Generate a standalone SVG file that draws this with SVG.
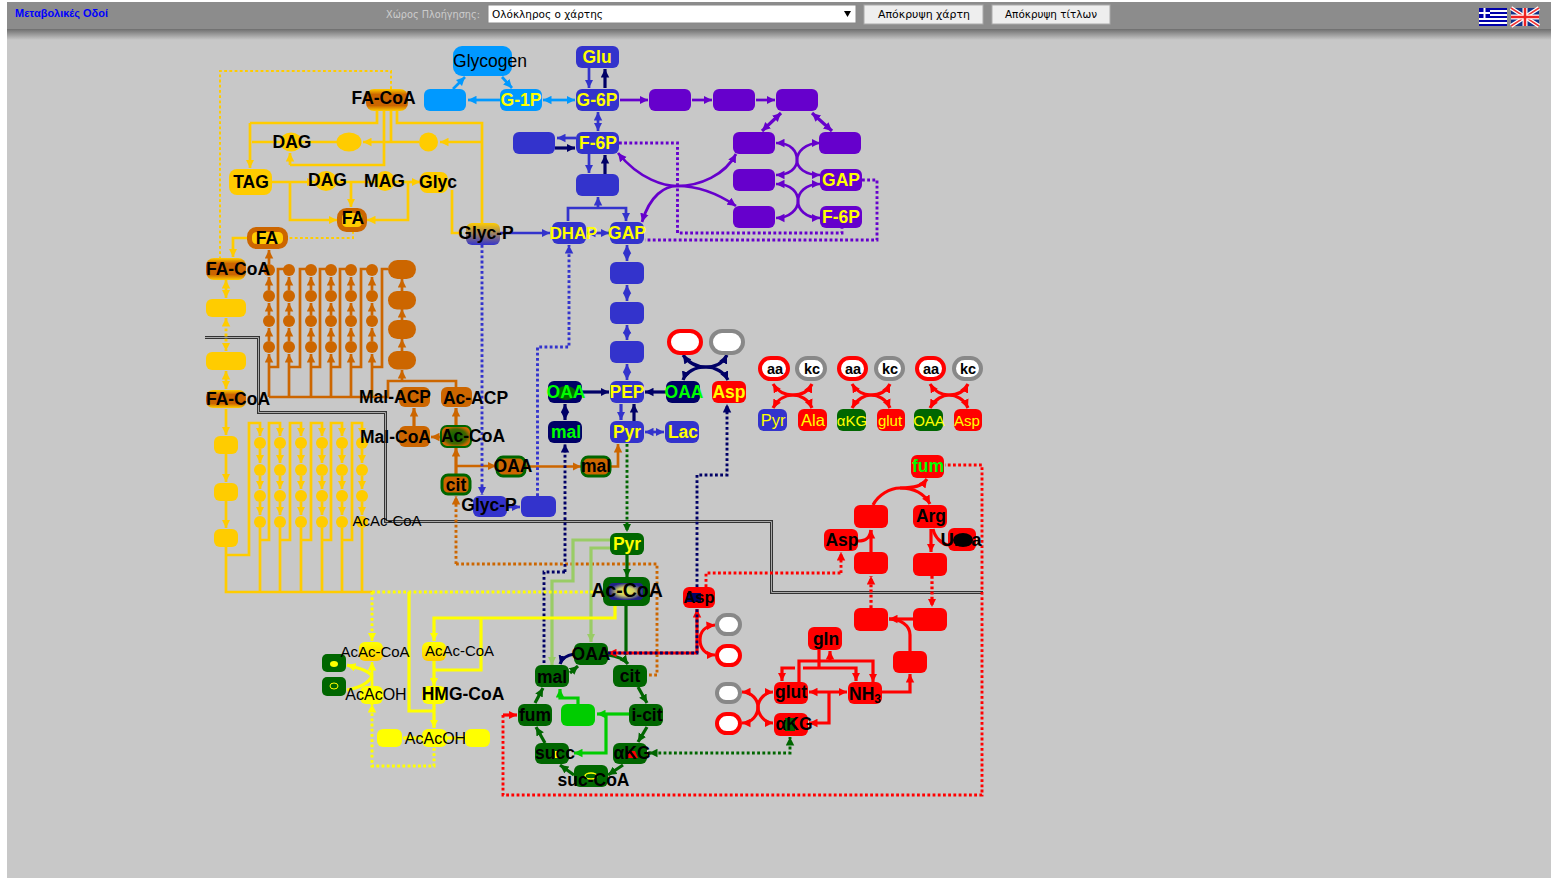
<svg xmlns="http://www.w3.org/2000/svg" width="1551" height="878" viewBox="0 0 1551 878">
<style>
text{font-family:"Liberation Sans",Arial,sans-serif}
.t{font-size:17.5px;font-weight:bold;text-anchor:middle;fill:#000}
.m{font-size:15px;font-weight:normal;text-anchor:middle;fill:#000}
.s14{font-size:14.5px;font-weight:bold}
.y{fill:#ff0}.g{fill:#0f0}
.ui{font-family:"DejaVu Sans",sans-serif;font-size:10.5px}
.blu{fill:#33c}.pur{fill:#60c}.sky{fill:#09f}.nav{fill:#006}.red{fill:#f00}.grn{fill:#060}.lim{fill:#0c0}.amb{fill:#fc0}.bro{fill:#c60}.yel{fill:#ff0}
.wr{fill:#fff;stroke:#f00;stroke-width:4}.wg{fill:#fff;stroke:#888;stroke-width:4}
.gb{stroke:#060;stroke-width:3;fill:#c60}
#edges path{fill:none;stroke-width:2.7}
#edges path.d{stroke-dasharray:2.8 2.4;stroke-width:2.9}
#edges path.th{stroke-width:3.2}
#edges .o{stroke:#fc0}#edges .br{stroke:#c60}#edges .bl{stroke:#33c}#edges .na{stroke:#006}#edges .pu{stroke:#60c}#edges .sk{stroke:#09f}#edges .re{stroke:#f00}#edges .gr{stroke:#060}#edges .li{stroke:#0c0}#edges .lg{stroke:#9c6}#edges .ye{stroke:#ff0}
.o.e{marker-end:url(#mo)}.o.s{marker-start:url(#mo)}
.br.e{marker-end:url(#mbr)}.br.s{marker-start:url(#mbr)}
.bl.e{marker-end:url(#mbl)}.bl.s{marker-start:url(#mbl)}
.na.e{marker-end:url(#mna)}.na.s{marker-start:url(#mna)}
.pu.e{marker-end:url(#mpu)}.pu.s{marker-start:url(#mpu)}
.sk.e{marker-end:url(#msk)}.sk.s{marker-start:url(#msk)}
.re.e{marker-end:url(#mre)}.re.s{marker-start:url(#mre)}
.gr.e{marker-end:url(#mgr)}.gr.s{marker-start:url(#mgr)}
.li.e{marker-end:url(#mli)}.lg.e{marker-end:url(#mlg)}
.ye.e{marker-end:url(#mye)}
</style>
<defs>
<marker id="mo" viewBox="0 0 10 10" refX="10" refY="5" markerWidth="8.500" markerHeight="9" markerUnits="userSpaceOnUse" orient="auto-start-reverse"><path d="M0 0L10 5L0 10z" fill="#fc0"/></marker>
<marker id="mbr" viewBox="0 0 10 10" refX="10" refY="5" markerWidth="8.500" markerHeight="9" markerUnits="userSpaceOnUse" orient="auto-start-reverse"><path d="M0 0L10 5L0 10z" fill="#c60"/></marker>
<marker id="mbl" viewBox="0 0 10 10" refX="10" refY="5" markerWidth="8.500" markerHeight="9" markerUnits="userSpaceOnUse" orient="auto-start-reverse"><path d="M0 0L10 5L0 10z" fill="#33c"/></marker>
<marker id="mna" viewBox="0 0 10 10" refX="10" refY="5" markerWidth="8.500" markerHeight="9" markerUnits="userSpaceOnUse" orient="auto-start-reverse"><path d="M0 0L10 5L0 10z" fill="#006"/></marker>
<marker id="mpu" viewBox="0 0 10 10" refX="10" refY="5" markerWidth="8.500" markerHeight="9" markerUnits="userSpaceOnUse" orient="auto-start-reverse"><path d="M0 0L10 5L0 10z" fill="#60c"/></marker>
<marker id="msk" viewBox="0 0 10 10" refX="10" refY="5" markerWidth="8.500" markerHeight="9" markerUnits="userSpaceOnUse" orient="auto-start-reverse"><path d="M0 0L10 5L0 10z" fill="#09f"/></marker>
<marker id="mre" viewBox="0 0 10 10" refX="10" refY="5" markerWidth="8.500" markerHeight="9" markerUnits="userSpaceOnUse" orient="auto-start-reverse"><path d="M0 0L10 5L0 10z" fill="#f00"/></marker>
<marker id="mgr" viewBox="0 0 10 10" refX="10" refY="5" markerWidth="8.500" markerHeight="9" markerUnits="userSpaceOnUse" orient="auto-start-reverse"><path d="M0 0L10 5L0 10z" fill="#060"/></marker>
<marker id="mli" viewBox="0 0 10 10" refX="10" refY="5" markerWidth="8.500" markerHeight="9" markerUnits="userSpaceOnUse" orient="auto-start-reverse"><path d="M0 0L10 5L0 10z" fill="#0c0"/></marker>
<marker id="mlg" viewBox="0 0 10 10" refX="10" refY="5" markerWidth="8.500" markerHeight="9" markerUnits="userSpaceOnUse" orient="auto-start-reverse"><path d="M0 0L10 5L0 10z" fill="#9c6"/></marker>
<marker id="mye" viewBox="0 0 10 10" refX="10" refY="5" markerWidth="8.500" markerHeight="9" markerUnits="userSpaceOnUse" orient="auto-start-reverse"><path d="M0 0L10 5L0 10z" fill="#ff0"/></marker>
<linearGradient id="shadow" x1="0" y1="0" x2="0" y2="1"><stop offset="0" stop-color="#6e6e6e"/><stop offset="1" stop-color="#c8c8c8"/></linearGradient>
<linearGradient id="gp" x1="0" y1="0" x2="0" y2="1"><stop offset="0" stop-color="#fc0"/><stop offset="1" stop-color="#33c"/></linearGradient>
<radialGradient id="acc"><stop offset="0" stop-color="#060"/><stop offset=".7" stop-color="#460"/><stop offset="1" stop-color="#c60"/></radialGradient>
<radialGradient id="acb"><stop offset="0" stop-color="#ee4"/><stop offset=".5" stop-color="#cc6"/><stop offset="1" stop-color="#228"/></radialGradient>
<linearGradient id="fac" x1="0" y1="0" x2="0" y2="1"><stop offset="0" stop-color="#fc0"/><stop offset=".25" stop-color="#c60"/><stop offset=".75" stop-color="#c60"/><stop offset="1" stop-color="#fc0"/></linearGradient>
<linearGradient id="aca" x1="0" y1="0" x2="0" y2="1"><stop offset="0" stop-color="#ff0"/><stop offset="1" stop-color="#fc0"/></linearGradient>
</defs>

<rect width="1551" height="878" fill="#fff"/>
<rect x="7" y="2" width="1544" height="876" fill="#c8c8c8"/>

<g id="toolbar">
<rect x="7" y="2" width="1544" height="27" fill="#8c8c8c"/>
<rect x="7" y="29" width="1544" height="11" fill="url(#shadow)"/>
<text x="15" y="17" font-size="11" font-weight="bold" fill="#00f" textLength="93" lengthAdjust="spacingAndGlyphs">Μεταβολικές Οδοί</text>
<text class="ui" x="386" y="18" fill="#ccc" textLength="94" lengthAdjust="spacingAndGlyphs">Χώρος Πλοήγησης:</text>
<rect x="488" y="5" width="368" height="18" fill="#fff" stroke="#888"/>
<text class="ui" x="492" y="18" fill="#000" textLength="111" lengthAdjust="spacingAndGlyphs">Ολόκληρος ο χάρτης</text>
<path d="M844 11h7l-3.500 6z" fill="#000"/>
<rect x="864" y="5" width="119" height="19" fill="#eee" stroke="#aaa"/>
<text class="ui" x="878" y="18" fill="#000" textLength="92" lengthAdjust="spacingAndGlyphs">Απόκρυψη χάρτη</text>
<rect x="992" y="5" width="118" height="19" fill="#eee" stroke="#aaa"/>
<text class="ui" x="1005" y="18" fill="#000" textLength="92" lengthAdjust="spacingAndGlyphs">Απόκρυψη τίτλων</text>
<g id="flag-gr"><rect x="1479" y="8" width="28" height="18" fill="#fff"/><path d="M1479 9h28M1479 13h28M1479 17h28M1479 21h28M1479 25h28" stroke="#00a" stroke-width="2"/><rect x="1479" y="8" width="11" height="10" fill="#00a"/><path d="M1484.500 8v10M1479 13h11" stroke="#fff" stroke-width="2"/></g>
<g id="flag-uk"><rect x="1511" y="8" width="28" height="18" fill="#138"/><path d="M1511 8l28 18M1539 8l-28 18" stroke="#fff" stroke-width="4"/><path d="M1511 8l28 18M1539 8l-28 18" stroke="#e33" stroke-width="1.500"/><path d="M1525 8v18M1511 17h28" stroke="#fff" stroke-width="5"/><path d="M1525 8v18M1511 17h28" stroke="#e22" stroke-width="2.500"/></g>
</g>

<g id="edges">
<path d="M205 337.500H258.500V412.500H385.500V521.500H771.500V592.500H983" style="stroke:#333;stroke-width:3"/>
<path d="M205 337.500H258.500V412.500H385.500V521.500H771.500V592.500H983" style="stroke:#aaa;stroke-width:1"/>
<path class="o" d="M377 111V123H250"/><path class="o e" d="M250 123V168"/>
<path class="o" d="M384 111V165H290"/><path class="o e" d="M290 165V153"/>
<path class="o" d="M391 111V142"/>
<path class="o" d="M397 111V123H482V224"/>
<path class="o" d="M252 142H340"/><path class="o e" d="M419 142H363"/><path class="o e" d="M482 142H440"/>
<path class="o e" d="M272 182H315"/><path class="o e" d="M290 182V220H337"/>
<path class="o" d="M337 182H375"/><path class="o e" d="M351 182V207"/>
<path class="o e" d="M395 182H420"/><path class="o e" d="M408 182V220H367"/>
<path class="o" d="M452 190V233H462"/>
<path class="o d" style="stroke-width:2" d="M353 231V238H288"/>
<path class="o d" style="stroke-width:2" d="M391 89V71H220V258"/>
<path class="o e" d="M247 238H233V257"/>
<path class="o e s" d="M226 280V298"/>
<path class="o d e s" d="M226 318V351"/>
<path class="o e s" d="M226 371V389"/>
<path class="o e" d="M226 409V435"/><path class="o e" d="M226 453V482"/><path class="o e" d="M226 501V528"/>
<path class="o" d="M226 547V592H372"/>
<path class="o e" d="M226 555H249V423H260V436"/>
<path class="o e" d="M260 540H269V423H280V436"/>
<path class="o e" d="M280 540H290V423H301V436"/>
<path class="o e" d="M301 540H311V423H322V436"/>
<path class="o e" d="M322 540H331V423H342V436"/>
<path class="o e" d="M342 540H352V423H362V436"/>
<path class="o" d="M260 528V592M280 528V592M301 528V592M322 528V592M342 528V592M362 528V592"/>
<path class="o e" d="M260 449V463"/><path class="o e" d="M260 476V489"/><path class="o e" d="M260 502V515"/>
<path class="o e" d="M280 449V463"/><path class="o e" d="M280 476V489"/><path class="o e" d="M280 502V515"/>
<path class="o e" d="M301 449V463"/><path class="o e" d="M301 476V489"/><path class="o e" d="M301 502V515"/>
<path class="o e" d="M322 449V463"/><path class="o e" d="M322 476V489"/><path class="o e" d="M322 502V515"/>
<path class="o e" d="M342 449V463"/><path class="o e" d="M342 476V489"/><path class="o e" d="M342 502V515"/>
<path class="o e" d="M362 449V463"/><path class="o e" d="M362 476V489"/><path class="o e" d="M362 502V515"/>
<path class="br" d="M269 397H388V381H456V387"/>
<path class="br" d="M269 367H278V269H285M289 367H300V269H306M311 367H320V269H326M331 367H340V269H346M351 367H361V269H367M372 367H382V269H388"/>
<path class="br e" d="M269 397V354"/><path class="br e" d="M289 397V354"/><path class="br e" d="M311 397V354"/><path class="br e" d="M331 397V354"/><path class="br e" d="M351 397V354"/><path class="br e" d="M372 397V354"/>
<path class="br e" d="M269 341V328"/><path class="br e" d="M269 315V303"/><path class="br e" d="M269 290V277"/><path class="br e" d="M269 264V250"/>
<path class="br e" d="M289 341V328"/><path class="br e" d="M289 315V303"/><path class="br e" d="M289 290V277"/>
<path class="br e" d="M311 341V328"/><path class="br e" d="M311 315V303"/><path class="br e" d="M311 290V277"/>
<path class="br e" d="M331 341V328"/><path class="br e" d="M331 315V303"/><path class="br e" d="M331 290V277"/>
<path class="br e" d="M351 341V328"/><path class="br e" d="M351 315V303"/><path class="br e" d="M351 290V277"/>
<path class="br e" d="M372 341V328"/><path class="br e" d="M372 315V303"/><path class="br e" d="M372 290V277"/>
<path class="br e" d="M402 381V370"/><path class="br e" d="M402 351V339"/><path class="br e" d="M402 320V309"/><path class="br e" d="M402 291V279"/>
<path class="br e" d="M441 437H431"/><path class="br e th" d="M414 426V408"/><path class="br e th" d="M456 426V408"/>
<path class="br e th" d="M456 474V448"/><path class="br e" d="M456 466H496"/>
<path class="br e" d="M526 466.500H581"/><path class="br e" d="M611 466.500H618V444"/>
<path class="br d e" d="M456 564V496"/><path class="br d" d="M456 564H657V675H648"/>
<path class="sk e" d="M500 100H468"/><path class="sk e" d="M453 89L465 77"/><path class="sk e" d="M502 77L512 88"/>
<path class="sk e s" d="M543 100H575"/>
<path class="bl e" d="M589 68V88"/><path class="na e th" d="M605 88V69"/>
<path class="bl e s" d="M598 112V131"/>
<path class="bl e" d="M576 138H557"/><path class="na e th" d="M555 148H575"/>
<path class="bl e" d="M589 154V173"/><path class="na e th" d="M605 174V155"/>
<path class="bl e" d="M598 208V197"/><path class="bl e" d="M568 221V208H626V221"/>
<path class="bl e" d="M500 233H550"/><path class="bl e s" d="M587 233H609"/>
<path class="bl e s" d="M627 245V261"/><path class="bl e s" d="M627 285V301"/><path class="bl e s" d="M627 325V340"/><path class="bl e s" d="M627 364V380"/>
<path class="pu e" d="M620 100H648"/><path class="pu e" d="M692 100H712"/><path class="pu e" d="M756 100H775"/>
<path class="pu e s th" d="M781 113L762 131"/><path class="pu e s th" d="M812 113L832 131"/>
<path class="pu e s" d="M618 153C640 180 665 186 677 186C700 186 725 175 736 154"/>
<path class="pu e s" d="M642 222C650 195 665 186 677 186C700 186 720 195 736 206"/>
<path class="pu e s" d="M776 143C792 143 797 152 797 160C797 168 805 175 820 175"/>
<path class="pu e s" d="M820 143C805 143 797 152 797 160C797 168 790 175 776 175"/>
<path class="pu e s" d="M776 184C792 184 798 193 798 201C798 209 805 218 820 218"/>
<path class="pu e s" d="M820 184C805 184 798 193 798 201C798 209 790 218 776 218"/>
<path class="pu d" d="M619 143H677.500V233H842V228"/>
<path class="pu d" d="M862 180H877V240H645"/>
<path class="bl d e" d="M482 245V495"/>
<path class="bl d e" d="M537.500 496V347H569V245"/>
<path class="bl e" d="M507 507H520"/>
<path class="na e th" d="M582 392H609"/><path class="na e th" d="M666 392H645"/>
<path class="na e s th" d="M565 404V420"/>
<path class="bl e th" d="M621 404V420"/><path class="na e th" d="M634 421V404"/>
<path class="bl e s" d="M645 432H664"/>
<path class="na e s th" d="M683 355C690 365 700 367 706 367C715 367 724 372 728 380"/>
<path class="na e s th" d="M727 355C722 365 712 367 706 367C695 367 686 372 683 380"/>
<path class="na d e" d="M565 572V444"/>
<path class="na d" d="M565 572H544V665"/>
<path class="na d e" d="M697 587V475H727V404"/>
<path class="gr d e" d="M627 444V532"/>
<path class="gr e th" d="M627 555V577"/>
<path class="lg e th" d="M610 540H573V581H552V665"/>
<path class="lg e th" d="M610 548H591V642"/>
<path class="gr th" d="M626 606V655"/>
<path class="gr e th" d="M608 655C616 656 624 659 628 664"/>
<path class="gr e th" d="M638 687L647 703"/><path class="gr e th" d="M647 727L638 742"/><path class="gr e th" d="M623 765L608 775"/><path class="gr e th" d="M574 775L560 765"/><path class="gr e th" d="M545 743L536 727"/><path class="gr e th" d="M535 703L543 688"/><path class="gr e th" d="M570 673L578 666"/>
<path class="na e th" d="M574 654C568 655 562 658 560 664"/>
<path class="li e th" d="M629 714H597"/><path class="li e th" d="M606 714V753H574"/>
<path class="li e th" d="M578 704V698H560V689"/>
<path class="re d" d="M503 715V795H982V465H945"/>
<path class="re e th" d="M503 715H517"/>
<path class="gr d e" d="M648 753H790V737"/>
<path class="gr d" d="M649 753H655" style="marker-start:url(#mgr)"/>
<path class="re e th" d="M697 653H608"/><path class="re e th" d="M697 653V609"/>
<path class="na d" d="M608 653H697V592"/>
<path class="re d" d="M706 587V573H841"/><path class="re d e" d="M841 573V552"/>
<path class="re e s th" d="M715 625C705 626 700 632 700 640C700 648 705 655 715 655"/>
<path class="re e s th" d="M742 692C752 692 758 700 758 707C758 715 765 723 773 723"/>
<path class="re e s th" d="M773 692C765 692 758 700 758 707C758 715 752 723 742 723"/>
<path class="re e s th" d="M809 692H847"/>
<path class="re e th" d="M829 692V723H809"/>
<path class="re e th" d="M882 692H910V674"/>
<path class="re e th" d="M910 651V635C910 625 900 619 889 619"/>
<path class="re th" d="M913 619H889"/>
<path class="re e d th" d="M871 608V576"/><path class="re e th" d="M871 552V530"/>
<path class="re e th" d="M931 529V552"/><path class="re e d th" d="M932 576V607"/>
<path class="re th" d="M873 505C878 495 890 488 900 488"/>
<path class="re e th" d="M900 488C915 488 922 486 927 479"/>
<path class="re e th" d="M900 488C915 488 925 495 930 504"/>
<path class="re th" d="M858 541C866 541 870 538 871 530"/>
<path class="re th" d="M933 529C935 538 942 544 948 545"/>
<path class="re e th" d="M799 682V661H873V682"/>
<path class="re e th" d="M830 661V651"/>
<path class="re th" d="M819 650V669"/>
<path class="re e th" d="M803 668H856V681"/>
<path class="re e th" d="M795 668H782V681"/>
<path class="re e s th" d="M773 384C778 392 786 395 793 395C800 395 808 399 812 408"/>
<path class="re e s th" d="M812 384C808 392 800 395 793 395C786 395 778 399 773 408"/>
<path class="re e s th" d="M852 384C857 392 865 395 871 395C878 395 886 399 890 408"/>
<path class="re e s th" d="M890 384C886 392 878 395 871 395C865 395 857 399 852 408"/>
<path class="re e s th" d="M930 384C935 392 943 395 949 395C956 395 964 399 968 408"/>
<path class="re e s th" d="M968 384C964 392 956 395 949 395C943 395 935 399 930 408"/>
<path class="ye d" d="M372 592H603"/>
<path class="ye d e" d="M372 592V641"/>
<path class="ye th" d="M409 592V711H434"/>
<path class="ye e th" d="M615 606V618H434V641"/>
<path class="ye th" d="M481 618V670H434"/>
<path class="ye e th" d="M434 661V686"/><path class="ye e th" d="M434 704V728"/>
<path class="ye e th" d="M422 738H403"/><path class="ye th" d="M447 738H465"/>
<path class="ye e" d="M372 686V662"/>
<path class="ye d e" d="M434 748V766H372V704"/>
<path class="ye e th" d="M372 676C368 670 358 668 347 665"/>
<path class="ye th" d="M372 676C368 684 358 688 347 690"/>
</g>

<g id="n-cy11"><circle class="amb" cx="260" cy="443" r="6"/></g><g id="n-cy12"><circle class="amb" cx="280" cy="443" r="6"/></g><g id="n-cy13"><circle class="amb" cx="301" cy="443" r="6"/></g><g id="n-cy14"><circle class="amb" cx="322" cy="443" r="6"/></g><g id="n-cy15"><circle class="amb" cx="342" cy="443" r="6"/></g><g id="n-cy16"><circle class="amb" cx="362" cy="443" r="6"/></g>
<g id="n-cy21"><circle class="amb" cx="260" cy="470" r="6"/></g><g id="n-cy22"><circle class="amb" cx="280" cy="470" r="6"/></g><g id="n-cy23"><circle class="amb" cx="301" cy="470" r="6"/></g><g id="n-cy24"><circle class="amb" cx="322" cy="470" r="6"/></g><g id="n-cy25"><circle class="amb" cx="342" cy="470" r="6"/></g><g id="n-cy26"><circle class="amb" cx="362" cy="470" r="6"/></g>
<g id="n-cy31"><circle class="amb" cx="260" cy="496" r="6"/></g><g id="n-cy32"><circle class="amb" cx="280" cy="496" r="6"/></g><g id="n-cy33"><circle class="amb" cx="301" cy="496" r="6"/></g><g id="n-cy34"><circle class="amb" cx="322" cy="496" r="6"/></g><g id="n-cy35"><circle class="amb" cx="342" cy="496" r="6"/></g><g id="n-cy36"><circle class="amb" cx="362" cy="496" r="6"/></g>
<g id="n-cy41"><circle class="amb" cx="260" cy="522" r="6"/></g><g id="n-cy42"><circle class="amb" cx="280" cy="522" r="6"/></g><g id="n-cy43"><circle class="amb" cx="301" cy="522" r="6"/></g><g id="n-cy44"><circle class="amb" cx="322" cy="522" r="6"/></g><g id="n-cy45"><circle class="amb" cx="342" cy="522" r="6"/></g>
<g id="n-acaccoa0"><circle class="amb" cx="362" cy="522" r="6"/><text class="m" x="387" y="526">AcAc-CoA</text></g>
<g id="n-cb11"><circle class="bro" cx="269" cy="270" r="6"/></g><g id="n-cb12"><circle class="bro" cx="289" cy="270" r="6"/></g><g id="n-cb13"><circle class="bro" cx="311" cy="270" r="6"/></g><g id="n-cb14"><circle class="bro" cx="331" cy="270" r="6"/></g><g id="n-cb15"><circle class="bro" cx="351" cy="270" r="6"/></g><g id="n-cb16"><circle class="bro" cx="372" cy="270" r="6"/></g>
<g id="n-cb21"><circle class="bro" cx="269" cy="296" r="6"/></g><g id="n-cb22"><circle class="bro" cx="289" cy="296" r="6"/></g><g id="n-cb23"><circle class="bro" cx="311" cy="296" r="6"/></g><g id="n-cb24"><circle class="bro" cx="331" cy="296" r="6"/></g><g id="n-cb25"><circle class="bro" cx="351" cy="296" r="6"/></g><g id="n-cb26"><circle class="bro" cx="372" cy="296" r="6"/></g>
<g id="n-cb31"><circle class="bro" cx="269" cy="321" r="6"/></g><g id="n-cb32"><circle class="bro" cx="289" cy="321" r="6"/></g><g id="n-cb33"><circle class="bro" cx="311" cy="321" r="6"/></g><g id="n-cb34"><circle class="bro" cx="331" cy="321" r="6"/></g><g id="n-cb35"><circle class="bro" cx="351" cy="321" r="6"/></g><g id="n-cb36"><circle class="bro" cx="372" cy="321" r="6"/></g>
<g id="n-cb41"><circle class="bro" cx="269" cy="347" r="6"/></g><g id="n-cb42"><circle class="bro" cx="289" cy="347" r="6"/></g><g id="n-cb43"><circle class="bro" cx="311" cy="347" r="6"/></g><g id="n-cb44"><circle class="bro" cx="331" cy="347" r="6"/></g><g id="n-cb45"><circle class="bro" cx="351" cy="347" r="6"/></g><g id="n-cb46"><circle class="bro" cx="372" cy="347" r="6"/></g>

<g id="n-glycogen"><rect class="sky" x="453" y="46" width="59" height="30" rx="9"/><text class="t" style="font-weight:normal" x="490" y="67">Glycogen</text></g>
<g id="n-udp"><rect class="sky" x="424" y="89" width="42" height="22" rx="6"/></g>
<g id="n-g1p"><rect class="sky" x="500" y="89" width="42" height="22" rx="6"/><text class="t y" x="521" y="106">G-1P</text></g>
<g id="n-glu"><rect class="blu" x="576" y="46" width="43" height="22" rx="6"/><text class="t y" x="597" y="63">Glu</text></g>
<g id="n-g6p"><rect class="blu" x="576" y="89" width="43" height="22" rx="6"/><text class="t y" x="597" y="106">G-6P</text></g>
<g id="n-p1"><rect class="pur" x="649" y="89" width="42" height="22" rx="6"/></g>
<g id="n-p2"><rect class="pur" x="713" y="89" width="42" height="22" rx="6"/></g>
<g id="n-p3"><rect class="pur" x="776" y="89" width="42" height="22" rx="6"/></g>
<g id="n-bl"><rect class="blu" x="513" y="132" width="42" height="22" rx="6"/></g>
<g id="n-f6p"><rect class="blu" x="576" y="132" width="43" height="22" rx="6"/><text class="t y" x="598" y="149">F-6P</text></g>
<g id="n-fbp"><rect class="blu" x="576" y="174" width="43" height="22" rx="6"/></g>
<g id="n-p4"><rect class="pur" x="733" y="132" width="42" height="22" rx="6"/></g>
<g id="n-p5"><rect class="pur" x="819" y="132" width="42" height="22" rx="6"/></g>
<g id="n-p6"><rect class="pur" x="733" y="169" width="42" height="22" rx="6"/></g>
<g id="n-gap2"><rect class="pur" x="820" y="169" width="42" height="22" rx="6"/><text class="t y" x="841" y="186">GAP</text></g>
<g id="n-p7"><rect class="pur" x="733" y="206" width="42" height="22" rx="6"/></g>
<g id="n-f6p2"><rect class="pur" x="820" y="206" width="42" height="22" rx="6"/><text class="t y" x="841" y="223">F-6P</text></g>
<g id="n-dhap"><rect class="blu" x="552" y="222" width="34" height="22" rx="6"/><text class="t y" style="font-size:16.800px" x="573.500" y="239">DHAP</text></g>
<g id="n-gap"><rect class="blu" x="610" y="222" width="34" height="22" rx="6"/><text class="t y" x="627" y="239">GAP</text></g>
<g id="n-b1"><rect class="blu" x="610" y="262" width="34" height="22" rx="6"/></g>
<g id="n-b2"><rect class="blu" x="610" y="302" width="34" height="22" rx="6"/></g>
<g id="n-b3"><rect class="blu" x="610" y="341" width="34" height="22" rx="6"/></g>
<g id="n-pep"><rect class="blu" x="610" y="381" width="34" height="22" rx="6"/><text class="t y" x="627" y="398">PEP</text></g>
<g id="n-pyr"><rect class="blu" x="610" y="421" width="34" height="22" rx="6"/><text class="t y" x="627" y="438">Pyr</text></g>
<g id="n-lac"><rect class="blu" x="665" y="421" width="34" height="22" rx="6"/><text class="t y" x="683" y="438">Lac</text></g>
<g id="n-oaa1"><rect class="nav" x="548" y="381" width="34" height="22" rx="6"/><ellipse cx="566" cy="393" rx="10" ry="7" class="grn"/><text class="t g" x="566" y="398">OAA</text></g>
<g id="n-mal1"><rect class="nav" x="548" y="421" width="34" height="22" rx="6"/><text class="t g" x="566" y="438">mal</text></g>
<g id="n-oaa2"><rect class="nav" x="666" y="381" width="34" height="22" rx="6"/><text class="t g" x="684" y="398">OAA</text></g>
<g id="n-asp1"><rect class="red" x="712" y="381" width="34" height="22" rx="6"/><text class="t y" x="729" y="398">Asp</text></g>
<g id="n-w1"><rect class="wr" x="669" y="331" width="32" height="22" rx="11"/></g>
<g id="n-w2"><rect class="wg" x="711" y="331" width="32" height="22" rx="11"/></g>

<g id="n-facoa1"><rect fill="url(#fac)" x="366" y="89" width="42" height="22" rx="8"/><text class="t" x="383.500" y="104">FA-CoA</text></g>
<g id="n-dag1"><ellipse class="amb" cx="291" cy="142" rx="11" ry="9.500"/><text class="t" x="292" y="148">DAG</text></g>
<g id="n-e1"><ellipse class="amb" cx="349" cy="142" rx="12.500" ry="9.500"/></g>
<g id="n-e2"><ellipse class="amb" cx="428.500" cy="142" rx="9.500" ry="9.500"/></g>
<g id="n-tag"><rect class="amb" x="229" y="169" width="43" height="26" rx="8"/><text class="t" x="251" y="188">TAG</text></g>
<g id="n-dag2"><ellipse class="amb" cx="326" cy="181" rx="11" ry="10"/><text class="t" x="327.500" y="186">DAG</text></g>
<g id="n-mag"><ellipse class="amb" cx="385" cy="181" rx="10" ry="10"/><text class="t" x="384.500" y="187">MAG</text></g>
<g id="n-glyc"><rect class="amb" x="420" y="172" width="28" height="21" rx="7"/><text class="t" x="438" y="188">Glyc</text></g>
<g id="n-fa1"><rect x="339.500" y="210.500" width="25" height="19" rx="7" fill="#fc0" stroke="#c60" stroke-width="5"/><text class="t" x="353" y="224">FA</text></g>
<g id="n-fa2"><rect x="249.500" y="229.500" width="36" height="17" rx="7" fill="#fc0" stroke="#c60" stroke-width="5"/><text class="t" x="267" y="244">FA</text></g>
<g id="n-glycp1"><rect fill="url(#gp)" x="466" y="223" width="34" height="22" rx="6"/><text class="t" x="486" y="239">Glyc-P</text></g>
<g id="n-facoa2"><rect fill="url(#fac)" x="206" y="258" width="40" height="22" rx="8"/><text class="t" x="238" y="275">FA-CoA</text></g>
<g id="n-y1"><rect class="amb" x="206" y="299" width="40" height="18" rx="6"/></g>
<g id="n-y2"><rect class="amb" x="206" y="352" width="40" height="18" rx="6"/></g>
<g id="n-facoa3"><rect fill="url(#fac)" x="206" y="390" width="40" height="18" rx="7"/><text class="t" x="238" y="405">FA-CoA</text></g>
<g id="n-y3"><rect class="amb" x="214" y="436" width="24" height="18" rx="6"/></g>
<g id="n-y4"><rect class="amb" x="214" y="483" width="24" height="18" rx="6"/></g>
<g id="n-y5"><rect class="amb" x="214" y="529" width="24" height="18" rx="6"/></g>

<g id="n-bb1"><rect class="bro" x="388" y="260" width="28" height="19" rx="9.500"/></g>
<g id="n-bb2"><rect class="bro" x="388" y="291" width="28" height="18.500" rx="9"/></g>
<g id="n-bb3"><rect class="bro" x="388" y="320" width="28" height="19" rx="9.500"/></g>
<g id="n-bb4"><rect class="bro" x="388" y="351" width="28" height="18.500" rx="9"/></g>
<g id="n-malacp"><rect class="bro" x="399" y="387" width="31" height="20" rx="6"/><text class="t" x="395" y="403">Mal-ACP</text></g>
<g id="n-acacp"><rect class="bro" x="441" y="387" width="31" height="20" rx="6"/><text class="t" x="475.500" y="404">Ac-ACP</text></g>
<g id="n-malcoa"><rect class="bro" x="399" y="426" width="31" height="21" rx="6"/><text class="t" x="395.500" y="443">Mal-CoA</text></g>
<g id="n-accoa1"><rect fill="url(#acc)" stroke="#060" stroke-width="2" x="441" y="426" width="30" height="21" rx="6"/><text class="t" x="473" y="442">Ac-CoA</text></g>
<g id="n-oaa3"><rect class="gb" x="497" y="457" width="28" height="19" rx="6"/><text class="t" x="513" y="472">OAA</text></g>
<g id="n-cit1"><rect class="gb" x="442" y="475" width="28" height="19" rx="6"/><text class="t" x="456" y="491">cit</text></g>
<g id="n-mal2"><rect class="gb" x="582" y="457" width="28" height="19" rx="6"/><text class="t" x="596" y="472">mal</text></g>
<g id="n-glycp2"><rect class="blu" x="473" y="496" width="34" height="21" rx="6"/><text class="t" x="489" y="511">Glyc-P</text></g>
<g id="n-b4"><rect class="blu" x="521" y="496" width="35" height="21" rx="6"/></g>

<g id="n-pyr2"><rect class="grn" x="610" y="533" width="34" height="22" rx="6"/><text class="t y" x="627" y="550">Pyr</text></g>
<g id="n-accoa2"><rect class="grn" x="603" y="577" width="47" height="29" rx="7"/><rect fill="url(#acb)" x="609" y="583" width="34" height="17" rx="4"/><text class="t" style="font-size:19.500px" x="627" y="597">Ac-CoA</text></g>
<g id="n-asp2"><rect class="red" x="683" y="587" width="32" height="21" rx="6"/><rect class="nav" x="687" y="593" width="14" height="9"/><text class="t" x="699" y="603" style="font-size:16.500px">Asp</text></g>
<g id="n-oaa4"><rect class="grn" x="574" y="643" width="34" height="22" rx="6"/><text class="t" x="591" y="660">OAA</text></g>
<g id="n-mal3"><rect class="grn" x="535" y="665" width="34" height="22" rx="6"/><text class="t" x="552" y="683">mal</text></g>
<g id="n-cit2"><rect class="grn" x="613" y="665" width="34" height="22" rx="6"/><text class="t" x="630" y="682">cit</text></g>
<g id="n-fum"><rect class="grn" x="518" y="704" width="34" height="22" rx="6"/><text class="t" x="535" y="721">fum</text></g>
<g id="n-lime"><rect class="lim" x="561" y="704" width="34" height="22" rx="6"/></g>
<g id="n-icit"><rect class="grn" x="629" y="704" width="34" height="22" rx="6"/><text class="t" x="647" y="721">i-cit</text></g>
<g id="n-succ"><rect class="grn" x="535" y="743" width="34" height="21" rx="6"/><rect class="yel" x="555" y="751" width="4" height="7"/><text class="t" x="555" y="759">succ</text></g>
<g id="n-akg1"><rect class="grn" x="613" y="743" width="34" height="21" rx="6"/><path d="M627 751h8l3 7h-10z" fill="#f00"/><text class="t" x="632" y="759">αKG</text></g>
<g id="n-succoa"><rect class="grn" x="574" y="765" width="34" height="22" rx="6"/><ellipse cx="591" cy="776" rx="6" ry="3" fill="none" stroke="#ff0" stroke-width="1.500"/><text class="t" x="593.500" y="786">suc-CoA</text></g>

<g id="n-ez1"><rect class="grn" x="322" y="654" width="24" height="18" rx="5"/><ellipse class="yel" cx="334" cy="664" rx="4" ry="3"/></g>
<g id="n-ez2"><rect class="grn" x="322" y="677" width="24" height="19" rx="5"/><ellipse cx="334" cy="686" rx="4" ry="3" fill="none" stroke="#ff0"/></g>
<g id="n-acac1"><rect fill="url(#aca)" x="359" y="642" width="24" height="19" rx="6"/><text class="m" x="375" y="657">AcAc-CoA</text></g>
<g id="n-acac2"><rect fill="url(#aca)" x="422" y="642" width="24" height="19" rx="6"/><text class="m" x="459.500" y="656">AcAc-CoA</text></g>
<g id="n-acacoh1"><rect class="yel" x="360" y="686" width="23" height="18" rx="6"/><text class="t" style="font-size:16px;font-weight:normal" x="376" y="700">AcAcOH</text></g>
<g id="n-hmg"><rect class="yel" x="422" y="686" width="24" height="18" rx="6"/><text class="t" x="463" y="700">HMG-CoA</text></g>
<g id="n-y6"><rect class="yel" x="377" y="729" width="25" height="18" rx="6"/></g>
<g id="n-acacoh2"><rect class="yel" x="422" y="729" width="25" height="18" rx="6"/><text class="t" style="font-size:16px;font-weight:normal" x="435.500" y="744">AcAcOH</text></g>
<g id="n-y7"><rect class="yel" x="465" y="729" width="25" height="18" rx="6"/></g>

<g id="n-fum2"><rect class="red" x="911" y="455" width="33" height="23" rx="6"/><text class="t g" x="928" y="472">fum</text></g>
<g id="n-r1"><rect class="red" x="854" y="505" width="34" height="23" rx="6"/></g>
<g id="n-arg"><rect class="red" x="913" y="505" width="34" height="23" rx="6"/><text class="t" x="931" y="522">Arg</text></g>
<g id="n-asp3"><rect class="red" x="824" y="529" width="34" height="22" rx="6"/><text class="t" x="842" y="546">Asp</text></g>
<g id="n-urea"><rect class="red" x="948" y="528" width="28" height="23" rx="6"/><ellipse cx="963" cy="540" rx="10" ry="7"/><text class="t" style="font-size:18.500px" x="961" y="546">Urea</text></g>
<g id="n-r2"><rect class="red" x="854" y="552" width="34" height="22" rx="6"/></g>
<g id="n-r3"><rect class="red" x="913" y="553" width="34" height="23" rx="6"/></g>
<g id="n-r4"><rect class="red" x="854" y="608" width="34" height="23" rx="6"/></g>
<g id="n-r5"><rect class="red" x="913" y="608" width="34" height="23" rx="6"/></g>
<g id="n-gln"><rect class="red" x="808" y="627" width="34" height="23" rx="6"/><text class="t" x="826" y="645">gln</text></g>
<g id="n-r6"><rect class="red" x="893" y="651" width="34" height="22" rx="6"/></g>
<g id="n-glut"><rect class="red" x="774" y="682" width="34" height="22" rx="6"/><text class="t" x="791" y="698">glut</text></g>
<g id="n-nh3"><rect class="red" x="848" y="682" width="34" height="22" rx="6"/><text class="t" x="865" y="700">NH<tspan font-size="12" dy="3">3</tspan></text></g>
<g id="n-akg2"><rect class="red" x="774" y="713" width="34" height="23" rx="6"/><rect class="grn" x="785" y="718" width="10" height="13"/><text class="t" x="794" y="730">αKG</text></g>
<g id="n-w3"><rect class="wg" x="717" y="615" width="23" height="19" rx="9.500"/></g>
<g id="n-w4"><rect class="wr" x="717" y="646" width="23" height="19" rx="9.500"/></g>
<g id="n-w5"><rect class="wg" x="717" y="684" width="23" height="18" rx="9"/></g>
<g id="n-w6"><rect class="wr" x="717" y="714" width="23" height="19" rx="9.500"/></g>

<g id="n-aa1"><rect class="wr" x="760" y="358" width="28" height="21" rx="10.500"/><text class="m s14" x="775" y="374">aa</text></g>
<g id="n-kc1"><rect class="wg" x="797" y="358" width="28" height="21" rx="10.500"/><text class="m s14" x="812" y="374">kc</text></g>
<g id="n-aa2"><rect class="wr" x="839" y="358" width="27" height="21" rx="10.500"/><text class="m s14" x="853" y="374">aa</text></g>
<g id="n-kc2"><rect class="wg" x="876" y="358" width="27" height="21" rx="10.500"/><text class="m s14" x="890" y="374">kc</text></g>
<g id="n-aa3"><rect class="wr" x="917" y="358" width="27" height="21" rx="10.500"/><text class="m s14" x="931" y="374">aa</text></g>
<g id="n-kc3"><rect class="wg" x="954" y="358" width="27" height="21" rx="10.500"/><text class="m s14" x="968" y="374">kc</text></g>
<g id="n-pyr3"><rect class="blu" x="758" y="409" width="29" height="22" rx="6"/><text class="m y" x="773" y="426" style="font-size:16.500px">Pyr</text></g>
<g id="n-ala"><rect class="red" x="798" y="409" width="29" height="22" rx="6"/><text class="m y" x="813" y="426" style="font-size:16.500px">Ala</text></g>
<g id="n-akg3"><rect class="grn" x="837" y="409" width="29" height="22" rx="6"/><text class="m y" x="852" y="426">αKG</text></g>
<g id="n-glut2"><rect class="red" x="877" y="409" width="28" height="22" rx="6"/><text class="m y" x="890" y="426">glut</text></g>
<g id="n-oaa5"><rect class="grn" x="914" y="409" width="29" height="22" rx="6"/><text class="m y" x="929" y="426">OAA</text></g>
<g id="n-asp4"><rect class="red" x="954" y="409" width="28" height="22" rx="6"/><text class="m y" x="967" y="426">Asp</text></g>
</svg>
